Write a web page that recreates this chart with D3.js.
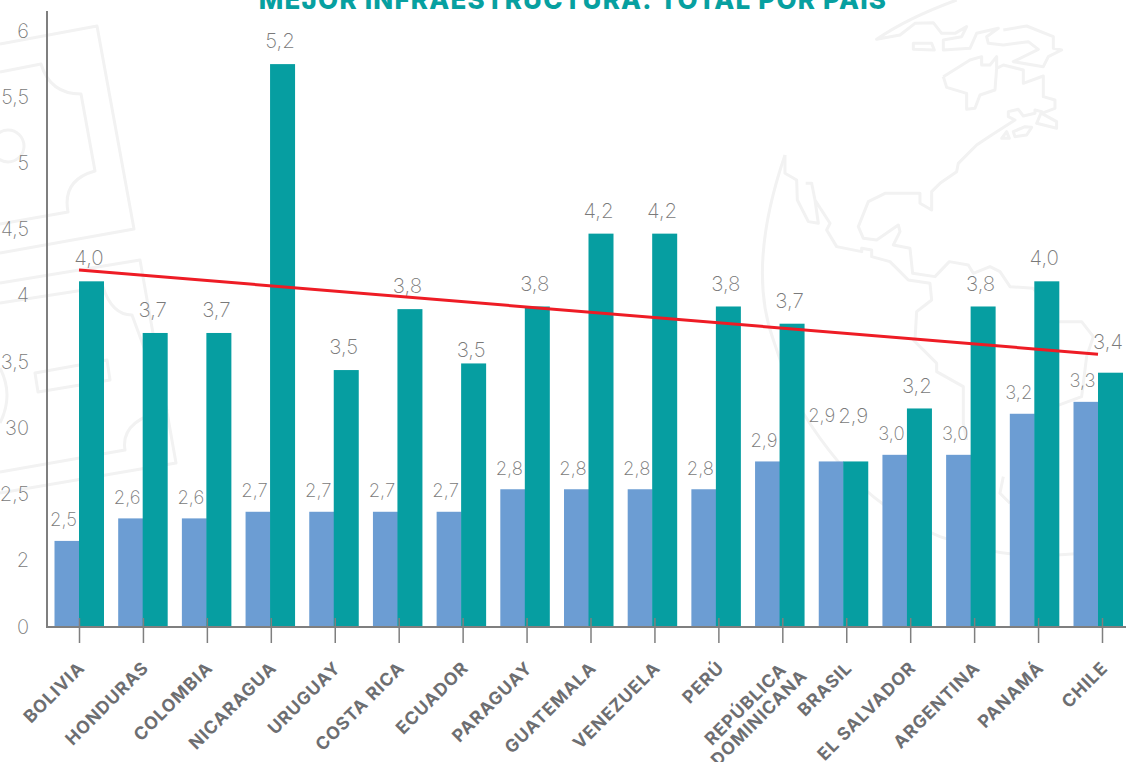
<!DOCTYPE html>
<html lang="es">
<head>
<meta charset="utf-8">
<script src="https://cdn.jsdelivr.net/npm/d3@7"></script>
<style>
html,body{margin:0;padding:0;background:#fff;overflow:hidden}
svg{display:block}
.num{font-family:Inter,"Open Sans",sans-serif;font-weight:200;fill:#7a7a7a}
.cat{font-family:Inter,"Open Sans",sans-serif;font-weight:700;fill:#6d6e71}
</style>
</head>
<body>
<svg id="chart" width="1126" height="762"></svg>
<script>
const titleText = "MEJOR INFRAESTRUCTURA: TOTAL POR PAÍS";
const categories = ["BOLIVIA","HONDURAS","COLOMBIA","NICARAGUA","URUGUAY","COSTA RICA","ECUADOR","PARAGUAY","GUATEMALA","VENEZUELA","PERÚ","REPÚBLICA\nDOMINICANA","BRASIL","EL SALVADOR","ARGENTINA","PANAMÁ","CHILE"];
const blueBars  = [2.15,2.32,2.32,2.37,2.37,2.37,2.37,2.54,2.54,2.54,2.54,2.75,2.75,2.80,2.80,3.11,3.20];
const tealBars  = [4.11,3.72,3.72,5.75,3.44,3.90,3.49,3.92,4.47,4.47,3.92,3.79,2.75,3.15,3.92,4.11,3.42];
const blueLabels = ["2,5","2,6","2,6","2,7","2,7","2,7","2,7","2,8","2,8","2,8","2,8","2,9","2,9","3,0","3,0","3,2","3,3"];
const tealLabels = ["4,0","3,7","3,7","5,2","3,5","3,8","3,5","3,8","4,2","4,2","3,8","3,7","2,9","3,2","3,8","4,0","3,4"];
const trendEnds = [4.196, 3.56];
const yTickValues = [1.5,2,2.5,3,3.5,4,4.5,5,5.5,6];
const yTickLabels = ["0","2","2,5","30","3,5","4","4,5","5","5,5","6"];

const svg = d3.select("#chart");

/* faint background illustration */
const wm = svg.append("g").attr("fill","none").attr("stroke","#f2f2f2").attr("stroke-linejoin","round");
const field = wm.append("g").attr("stroke-width",3);
["M0,44L97,26L134,229L0,253",
 "M0,72L41,64Q50,94 81,94L95,171Q62,180 68,212L0,224",
 "M0,283L140,260L176,463L0,493",
 "M0,303L103,287Q112,315 132,315L167,410Q120,420 125,450L0,472",
 "M35,373L107,360L110,380L38,392Z",
 "M0,368Q14,395 0,423"].forEach(d=>field.append("path").attr("d",d));
field.append("circle").attr("cx",8).attr("cy",146).attr("r",16);
const globe = wm.append("g").attr("transform","translate(740,0) scale(0.3333)").attr("stroke-width",9);
["M650,0Q500,55 410,118L480,105L525,70L580,68L605,100L645,100L680,80L665,110L610,120L610,150L690,145L710,100L775,85L740,110L745,130L790,135L865,125L895,148L820,185L910,200L925,170L965,150L940,145L940,110L860,78L790,90",
 "M520,130L575,130L583,150L520,148Z",
 "M610,230L690,180L725,170L725,195L750,195L770,170L770,205L790,195L850,210L850,250L910,228L910,290L945,300L945,325L905,340L950,365L950,385L890,370L905,335L885,330L885,340L850,348L835,328L805,335L805,350L825,360L755,405L710,435L655,490L650,515L600,550L575,575L575,630L540,610L540,580L435,580L385,605L355,680L370,715L410,720L475,675L480,695L460,735L510,745L518,820L585,830L628,785L685,795L700,820L750,800L780,815L810,860L880,865L955,965L1025,965L1060,1010L1040,1070L1025,1190L950,1218",
 "M610,230L620,262L680,280L680,328L705,325L720,285L765,270L770,205",
 "M785,415L800,395L808,415Z",
 "M820,395L855,380L875,382L860,405L825,410Z",
 "M135,465L135,520L170,540L172,600L205,665L235,670L225,600L215,550L197,550M225,600L270,670L260,690L290,740L365,755L365,745L395,750L395,770L450,785L505,840L570,850L575,900L530,935L525,1020L520,1020L590,1090L590,1115L670,1160L670,1270L680,1320",
 "M135,465Q20,800 100,1020Q150,1170 190,1240Q290,1400 400,1490Q500,1570 600,1610Q800,1680 950,1665Q1050,1660 1100,1650",
 "M790,1430L780,1480L810,1510"].forEach(d=>globe.append("path").attr("d",d));

/* scales */
const y = d3.scaleLinear().domain([1.5,6]).range([627,31]);
const x = d3.scaleBand().domain(categories).range([54.5,1122.5]).paddingInner(0.2306).paddingOuter(0);
const sub = d3.scaleBand().domain(["blue","teal"]).range([0,x.bandwidth()]);
const xTick = d3.scalePoint().domain(categories).range([79,1102]);
const barW = 25;

/* title */
svg.append("text").attr("x",573).attr("y",9).attr("text-anchor","middle")
  .attr("font-family","Inter,sans-serif").attr("font-weight",800).attr("font-size",26).attr("letter-spacing",1.2)
  .attr("fill","#07a0a0").text(titleText);

/* bars */
svg.append("g").selectAll("rect").data(categories).join("rect")
  .attr("x",c=>x(c)+sub("blue")).attr("width",barW)
  .attr("y",(c,i)=>y(blueBars[i])).attr("height",(c,i)=>y(1.5)-y(blueBars[i]))
  .attr("fill","#6c9dd3");
svg.append("g").selectAll("rect").data(categories).join("rect")
  .attr("x",c=>x(c)+sub("teal")).attr("width",barW)
  .attr("y",(c,i)=>y(tealBars[i])).attr("height",(c,i)=>y(1.5)-y(tealBars[i]))
  .attr("fill","#069ea1");

/* axes */
const yAxis = d3.axisLeft(y).tickValues(yTickValues).tickSize(0).tickPadding(18)
  .tickFormat(v=>yTickLabels[yTickValues.indexOf(v)]);
const gy = svg.append("g").attr("transform","translate(47,0)").call(yAxis);
gy.select(".domain").remove();
gy.selectAll("text").attr("class","num").attr("font-size",20).attr("dy","0.3em");
svg.append("line").attr("x1",47).attr("x2",47).attr("y1",11).attr("y2",y(1.5)+1).attr("stroke","#7f7f7f").attr("stroke-width",2);
svg.append("line").attr("x1",46).attr("x2",1126).attr("y1",y(1.5)).attr("y2",y(1.5)).attr("stroke","#7f7f7f").attr("stroke-width",2);

const xAxis = d3.axisBottom(xTick).tickSize(25).tickFormat("");
const gx = svg.append("g").attr("transform","translate(0,618)").call(xAxis);
gx.select(".domain").remove();
gx.selectAll("line").attr("stroke","#7f7f7f").attr("stroke-width",1.5);

/* category labels */
const catG = svg.append("g");
categories.forEach(c=>{
  const t = catG.append("text").attr("class","cat").attr("font-size",17.5).attr("letter-spacing",1)
    .attr("text-anchor","end")
    .attr("transform",`translate(${xTick(c)+7},669) rotate(-45)`);
  const lines = c.split("\n");
  const spans = lines.map((l,i)=>t.append("tspan").attr("x",0).attr("y",i*19).text(l));
  if(lines.length>1){
    const w = spans.map(s=>s.node().getComputedTextLength());
    const wide = Math.max(...w);
    spans.forEach((s,i)=>s.attr("x",(wide-w[i])/-2 + 8));
  }
});

/* value labels: lifted above their bars, a few moved clear of the neighbours */
const liftTeal = {BRASIL:46,ECUADOR:14,CHILE:31};
const labelG = svg.append("g");
labelG.selectAll("text.b").data(categories).join("text").attr("class","num b").attr("font-size",18.5)
  .attr("text-anchor","middle").attr("dy","0.35em")
  .attr("x",c=>x(c)+sub("blue")+(c==="BRASIL"?3:9))
  .attr("y",(c,i)=>y(blueBars[i])-(c==="BRASIL"?46:21))
  .text((c,i)=>blueLabels[i]);
labelG.selectAll("text.t").data(categories).join("text").attr("class","num t").attr("font-size",20.5)
  .attr("text-anchor","middle").attr("dy","0.35em")
  .attr("x",c=>x(c)+sub("teal")+10)
  .attr("y",(c,i)=>y(tealBars[i])-(liftTeal[c]??23))
  .text((c,i)=>tealLabels[i]);

/* trend line */
const first = categories[0], last = categories[categories.length-1];
const line = d3.line().x(d=>d[0]).y(d=>y(d[1]));
svg.append("path").attr("fill","none").attr("stroke","#ee1c25").attr("stroke-width",3)
  .attr("d",line([[x(first)+sub("teal"),trendEnds[0]],[x(last)+sub("teal"),trendEnds[1]]]));
</script>
</body>
</html>
